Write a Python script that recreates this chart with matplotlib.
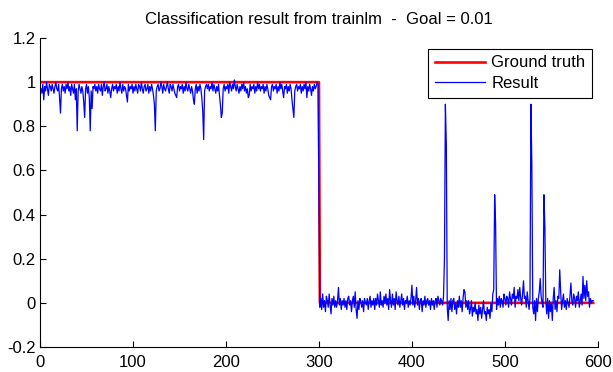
import numpy as np
import matplotlib.pyplot as plt

plt.rcParams['font.family'] = ['Liberation Sans', 'DejaVu Sans']
plt.rcParams['axes.unicode_minus'] = False

# result of the network, samples 1..300 (class 1)
result_first = [
    0.97, 0.95, 0.99, 0.92, 0.98, 0.96, 1.00, 0.97, 0.94, 0.99, 0.98, 0.96, 0.99, 0.97, 0.95, 0.98, 1.00, 0.97, 0.96, 0.99,
    0.93, 0.86, 0.97, 0.99, 0.96, 0.98, 0.95, 0.99, 0.97, 1.00, 0.96, 0.98, 0.94, 0.99, 0.97, 0.95, 0.99, 0.92, 0.97, 0.78,
    0.96, 0.99, 0.97, 0.95, 0.98, 0.96, 0.91, 0.84, 0.97, 0.99, 0.95, 0.98, 0.93, 0.78, 0.96, 0.88, 0.98, 0.97, 0.99, 0.96,
    0.98, 0.95, 0.99, 0.97, 0.96, 0.99, 0.94, 0.98, 1.00, 0.96, 0.97, 0.99, 0.95, 0.98, 0.96, 0.93, 0.97, 0.99, 0.96, 0.98,
    0.97, 0.99, 0.95, 0.98, 0.96, 1.00, 0.97, 0.95, 0.99, 0.96, 0.98, 0.97, 0.94, 0.91, 0.99, 0.96, 0.98, 0.97, 0.99, 0.95,
    0.98, 0.96, 0.99, 0.97, 0.95, 0.99, 0.98, 0.96, 1.00, 0.97, 0.95, 0.98, 0.99, 0.96, 0.97, 0.99, 0.95, 0.98, 0.96, 0.99,
    0.97, 0.94, 0.90, 0.78, 0.96, 0.98, 0.99, 0.96, 0.97, 1.00, 0.98, 0.95, 0.99, 0.97, 0.96, 0.98, 1.00, 0.97, 0.95, 0.99,
    0.98, 0.96, 0.99, 0.97, 0.95, 0.94, 0.93, 0.98, 0.99, 0.96, 0.98, 0.97, 0.99, 0.95, 0.98, 0.96, 1.00, 0.97, 0.96, 0.99,
    0.97, 0.95, 0.98, 0.96, 0.92, 0.90, 0.97, 0.99, 0.95, 0.98, 0.96, 0.99, 0.97, 0.93, 0.87, 0.74, 0.96, 0.98, 0.99, 0.97,
    0.99, 0.96, 0.98, 0.97, 1.00, 0.96, 0.99, 0.97, 0.95, 0.98, 0.96, 0.99, 0.94, 0.90, 0.84, 0.86, 0.97, 0.99, 0.96, 0.98,
    0.97, 0.99, 0.95, 1.00, 0.98, 0.96, 0.99, 0.97, 1.01, 0.98, 0.96, 0.99, 0.97, 0.95, 0.98, 0.96, 0.99, 0.97, 1.00, 0.96,
    0.98, 0.95, 0.97, 0.93, 0.94, 0.99, 0.96, 0.98, 0.97, 0.99, 0.95, 0.98, 0.96, 1.00, 0.97, 0.99, 0.96, 0.98, 0.97, 0.99,
    0.95, 0.98, 0.96, 0.99, 0.97, 0.94, 0.93, 0.92, 0.98, 0.99, 0.96, 0.98, 0.97, 0.99, 0.95, 0.98, 0.96, 1.00, 0.97, 0.99,
    0.96, 0.93, 0.98, 0.97, 0.99, 0.95, 0.98, 0.96, 0.99, 0.97, 0.92, 0.88, 0.84, 0.96, 0.98, 0.99, 0.96, 0.98, 0.97, 0.99,
    0.95, 0.98, 0.96, 0.99, 0.97, 1.00, 0.93, 0.98, 0.96, 0.99, 0.97, 0.94, 0.98, 0.96, 0.99, 0.97, 0.98, 1.00, 0.99, 0.50,
]

# samples 301..595 (class 0)
result_second = [
    -0.02, 0.02, -0.03, 0.04, -0.02, 0.01, -0.04, 0.03, 0.01, -0.02, 0.04, -0.01, -0.05, 0.02, -0.01, 0.03, -0.02, 0.01, -0.02, 0.01,
    0.07, -0.01, 0.02, -0.03, 0.01, -0.01, 0.02, -0.02, 0.01, -0.03, 0.02, 0.03, -0.01, 0.01, -0.04, 0.01, 0.03, -0.02, 0.05, -0.03,
    -0.07, 0.01, -0.03, 0.02, 0.01, -0.02, 0.01, -0.04, 0.02, 0.00, -0.01, 0.02, -0.03, 0.01, 0.03, -0.02, 0.01, -0.01, 0.02, -0.03,
    0.02, -0.01, 0.04, 0.01, -0.02, 0.05, -0.01, 0.01, -0.02, 0.03, 0.00, 0.04, -0.01, 0.02, -0.03, 0.06, 0.01, -0.02, 0.04, -0.01,
    0.02, -0.03, 0.05, 0.01, -0.01, 0.03, -0.02, 0.01, 0.04, -0.01, 0.02, -0.03, 0.01, 0.00, 0.03, -0.02, 0.01, -0.01, 0.02, 0.08,
    -0.01, 0.03, -0.02, 0.01, 0.07, -0.01, 0.02, -0.03, 0.01, 0.02, -0.04, 0.01, -0.01, 0.03, -0.02, 0.01, 0.02, -0.01, 0.01, -0.03,
    0.02, -0.01, 0.01, -0.03, 0.01, 0.02, -0.02, 0.03, 0.01, -0.01, 0.02, 0.01, -0.01, 0.03, 0.20, 0.90, 0.72, -0.02, -0.08, 0.01,
    -0.03, 0.02, -0.04, 0.01, 0.02, -0.03, 0.00, -0.05, 0.01, -0.02, 0.03, -0.02, 0.01, -0.04, 0.02, 0.06, 0.05, -0.02, 0.01, -0.03,
    0.01, -0.05, -0.03, 0.01, -0.06, -0.02, -0.04, 0.00, -0.05, -0.03, -0.08, -0.01, -0.05, -0.02, -0.07, -0.03, 0.01, -0.05, -0.04, -0.08,
    -0.02, -0.05, -0.03, -0.07, 0.00, -0.04, 0.04, 0.06, 0.49, 0.36, -0.03, 0.02, -0.01, 0.03, -0.02, 0.02, 0.01, -0.02, 0.04, 0.02,
    -0.01, 0.03, 0.02, -0.02, 0.05, 0.02, -0.01, 0.04, 0.02, 0.07, -0.02, 0.03, 0.02, 0.06, 0.01, 0.07, 0.02, -0.01, 0.04, 0.10,
    0.02, 0.03, -0.02, 0.05, 0.01, -0.03, 0.02, 0.90, 0.63, -0.02, -0.05, 0.01, -0.08, 0.02, -0.04, 0.02, 0.05, 0.11, 0.03, 0.00,
    -0.02, 0.49, 0.35, 0.01, -0.05, 0.02, -0.07, 0.01, -0.04, 0.00, -0.08, 0.02, 0.07, -0.03, 0.01, -0.04, 0.03, 0.02, 0.15, 0.05,
    -0.03, 0.01, 0.04, -0.02, 0.01, -0.03, 0.02, 0.00, -0.02, 0.03, 0.09, 0.01, -0.01, 0.04, 0.02, -0.02, 0.03, 0.01, 0.05, -0.02,
    0.01, 0.04, -0.01, 0.12, 0.02, 0.08, 0.01, 0.10, 0.03, 0.05, -0.02, 0.02, 0.00, 0.01, 0.01,
]

n_class1 = 300
result = np.array(result_first + result_second)
samples = np.arange(1, len(result) + 1)
truth = np.where(samples <= n_class1, 1.0, 0.0)

xticks = [0, 100, 200, 300, 400, 500, 600]
yticks = [-0.2, 0, 0.2, 0.4, 0.6, 0.8, 1, 1.2]
ytick_labels = ['-0.2', '0', '0.2', '0.4', '0.6', '0.8', '1', '1.2']

fig = plt.figure(figsize=(6.13, 3.72), dpi=100)
ax = fig.add_axes([0.0653, 0.0672, 0.910, 0.8306])

ax.plot(samples, truth, color='red', lw=1.9, label='Ground truth')
ax.plot(samples, result, color='blue', lw=0.9, label='Result')

ax.set_xlim(0, 600)
ax.set_ylim(-0.2, 1.2)
ax.set_xticks(xticks)
ax.set_yticks(yticks)
ax.set_yticklabels(ytick_labels)
ax.tick_params(direction='in', length=4, labelsize=12, colors='black', pad=3)
ax.tick_params(axis='x', pad=6)
for s in ['top', 'right']:
    ax.spines[s].set_visible(False)

ax.set_title('Classification result from trainlm  -  Goal = 0.01', fontsize=12, pad=10)

leg = ax.legend(loc='upper right', bbox_to_anchor=(0.99, 0.965), fontsize=12,
                fancybox=False, edgecolor='black', framealpha=1, borderaxespad=0,
                handlelength=3.0, borderpad=0.4, labelspacing=0.35, handletextpad=0.4)
leg.get_frame().set_linewidth(0.8)

fig.savefig('out.png', dpi=100)
